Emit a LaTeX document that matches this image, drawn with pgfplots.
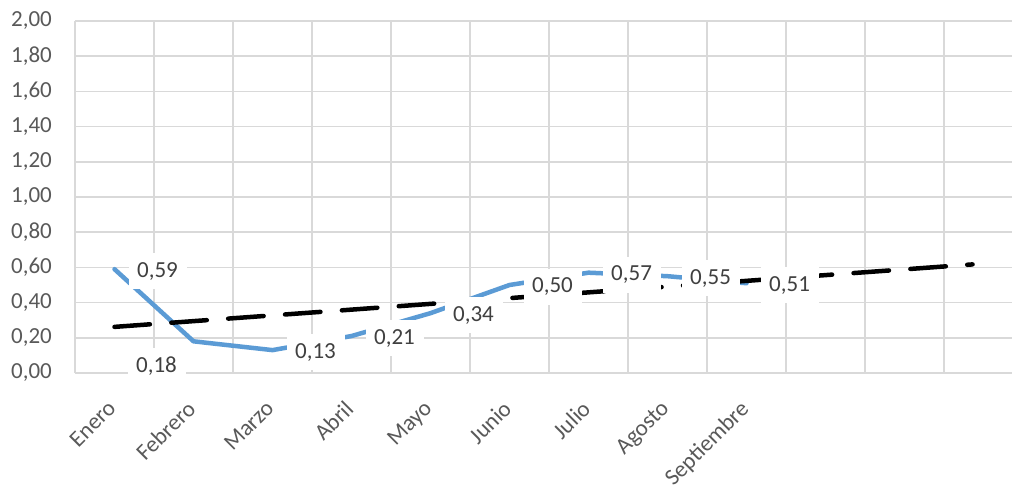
\documentclass[border=0pt]{standalone}
\usepackage{fontspec}
\setmainfont{Carlito}
\usepackage{pgfplots}
\pgfplotsset{compat=1.18}
\definecolor{serieblue}{HTML}{5B9BD5}
\definecolor{gridgray}{HTML}{D9D9D9}
\definecolor{ticktext}{HTML}{595959}
\definecolor{labtext}{HTML}{404040}
\begin{document}
\begin{tikzpicture}[font=\fontsize{23}{27}\selectfont]
\begin{axis}[
  at={(75pt,114pt)}, anchor=south west,
  scale only axis, width=937pt, height=352pt,
  xmin=0.5, xmax=12.36, ymin=0, ymax=2,
  axis line style={draw=none},
  major tick length=0pt, minor tick length=0pt,
  xtick={1,2,3,4,5,6,7,8,9},
  xticklabels={Enero,Febrero,Marzo,Abril,Mayo,Junio,Julio,Agosto,Septiembre},
  minor xtick={0.5,1.5,2.5,3.5,4.5,5.5,6.5,7.5,8.5,9.5,10.5,11.5},
  xmajorgrids=false, xminorgrids=true, ymajorgrids=true,
  ytick={0,0.2,0.4,0.6,0.8,1.0,1.2,1.4,1.6,1.8,2.0},
  grid style={gridgray, line width=1.5pt},
  minor grid style={gridgray, line width=1.5pt},
  yticklabel style={/pgf/number format/.cd, fixed, fixed zerofill, precision=2, use comma, assume math mode=true, /tikz/.cd, text=ticktext, anchor=east, inner sep=0pt, xshift=-23pt},
  xticklabel style={xshift=-8pt, yshift=-26pt, rotate=45, anchor=north east, inner sep=0pt, text=ticktext},
  clip=false,
]
\addplot[serieblue, line width=4.5pt, line join=round, line cap=round] coordinates {
  (1,0.59) (2,0.18) (3,0.13) (4,0.21) (5,0.34) (6,0.50) (7,0.57) (8,0.55) (9,0.51)
};
\addplot[draw=none, nodes near coords, point meta=explicit symbolic,
  nodes near coords style={fill=white, inner sep=0pt, minimum width=58pt, minimum height=36pt, anchor=center, xshift=43pt, yshift=-2pt, text=labtext}]
  table[meta=lab] {
x y lab
1 0.59 0,59
3 0.13 0,13
4 0.21 0,21
5 0.34 0,34
6 0.50 0,50
7 0.57 0,57
8 0.55 0,55
9 0.51 0,51
};
\addplot[draw=none, nodes near coords, point meta=explicit symbolic,
  nodes near coords style={fill=white, inner sep=0pt, minimum width=58pt, minimum height=36pt, anchor=center, xshift=-37pt, yshift=-25pt, text=labtext}]
  table[meta=lab] {
x y lab
2 0.18 0,18
};
\addplot[black, line width=4.5pt, line cap=round, dash pattern=on 35.5pt off 21.5pt] coordinates {
  (1,0.262) (11.86,0.617)
};
\end{axis}
\pgfresetboundingbox
\useasboundingbox (0,0) rectangle (1012pt,487pt);
\end{tikzpicture}
\end{document}
